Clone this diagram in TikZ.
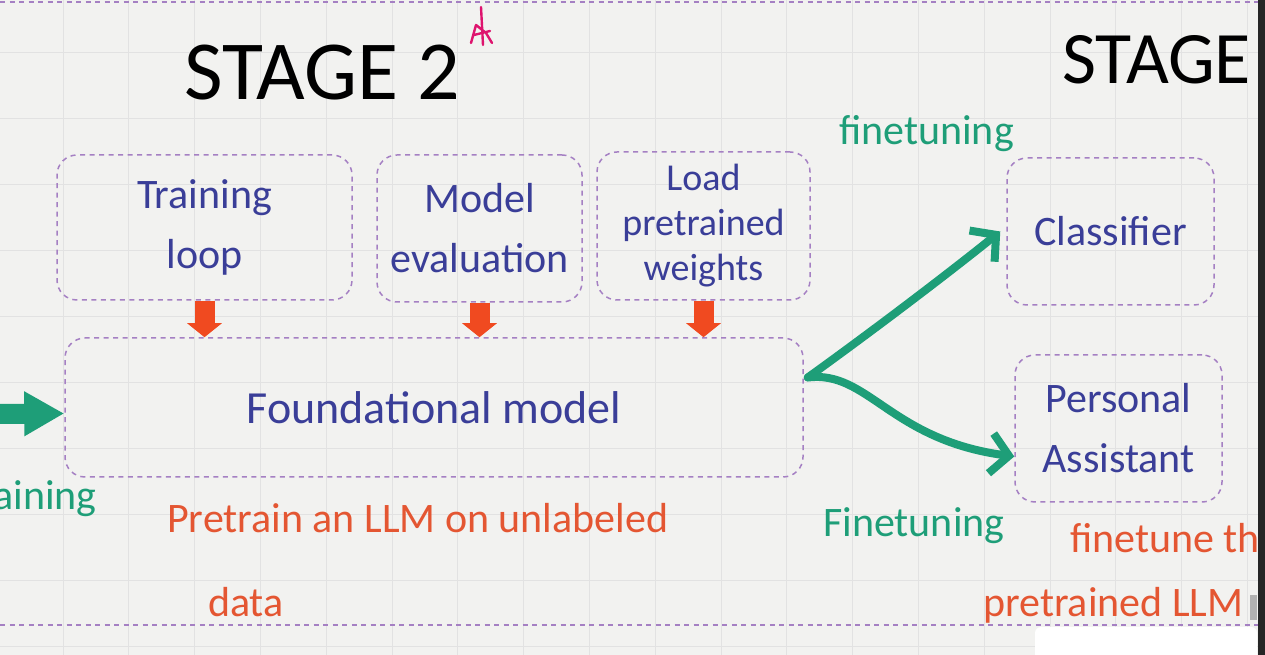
\documentclass[tikz,border=0pt]{standalone}
\usepackage{fontspec}
\setmainfont{Carlito}
\usetikzlibrary{arrows.meta,positioning}

\definecolor{paper}{RGB}{242,242,240}
\definecolor{gridgray}{RGB}{226,226,226}
\definecolor{boxpurple}{RGB}{165,128,195}
\definecolor{inkblue}{RGB}{58,62,152}
\definecolor{inkorange}{RGB}{228,86,50}
\definecolor{inkgreen}{RGB}{30,158,120}
\definecolor{pushred}{RGB}{240,74,32}
\definecolor{penpink}{RGB}{222,20,110}

\tikzset{
  dashbox/.style={draw=boxpurple, line width=1.5pt, dash pattern=on 5pt off 4.5pt,
    rounded corners=20pt, inner sep=0pt, text=inkblue, align=center,
    font=\fontsize{42}{60}\selectfont},
  pushdown/.style={draw=pushred, line width=20pt, -{Triangle[width=34pt,length=14pt]}},
  tuneline/.style={draw=inkgreen, line width=8pt, line cap=round,
    -{Straight Barb[length=18pt,width=40pt]}},
  stagetitle/.style={font=\fontsize{84}{88}\selectfont, text=black, inner sep=0pt},
  greennote/.style={font=\fontsize{42}{48}\selectfont, text=inkgreen, inner sep=0pt},
  orangenote/.style={font=\fontsize{42}{48}\selectfont, text=inkorange, inner sep=0pt}
}

\begin{document}
\begin{tikzpicture}[x=1pt,y=1pt]
\useasboundingbox (0,0) rectangle (1265,655);
\clip (0,0) rectangle (1265,655);
% paper and grid
\fill[paper] (0,0) rectangle (1265,655);
\foreach \gx in {0,...,18} \draw[gridgray, line width=0.8pt] (63+65.8*\gx,0) -- (63+65.8*\gx,655);
\foreach \gy in {0,...,9} \draw[gridgray, line width=0.8pt] (0,603-66*\gy) -- (1265,603-66*\gy);
% page separators
\draw[boxpurple, line width=1.5pt, dash pattern=on 5pt off 4.5pt] (0,653) -- (1265,653);
\draw[boxpurple, line width=1.5pt, dash pattern=on 5pt off 4.5pt] (0,30) -- (1265,30);

% titles
\node[stagetitle] (stagetwo) at (322,582) {STAGE 2};
\node[stagetitle, anchor=west, font=\fontsize{74}{78}\selectfont] (stagethree) at (1062,595) {STAGE 3};
% pink star doodle
\draw[penpink, line width=2.4pt, line cap=round, line join=round]
  (481,648) -- (483,610) (471,612) -- (476,630) -- (486,622) -- (492,612) (474,620) -- (490,624);

% stage 2 input boxes
\node[dashbox, minimum width=295pt, minimum height=145pt] (train) at (204.5,427.5) {Training\\loop};
\node[dashbox, minimum width=205pt, minimum height=147pt] (evaluate) at (479.5,426.5) {Model\\evaluation};
\node[dashbox, minimum width=213pt, minimum height=148pt,
  font=\fontsize{38}{45}\selectfont] (load) at (703.5,429) {Load\\pretrained\\weights};
% foundational model
\node[dashbox, minimum width=738pt, minimum height=139pt,
  font=\fontsize{46}{50}\selectfont] (foundation) at (434,247.5) {Foundational model};
% push arrows
\draw[pushdown] (train.south) -- (train.south |- foundation.north);
\draw[pushdown] (evaluate.south) -- (evaluate.south |- foundation.north);
\draw[pushdown] (load.south) -- (load.south |- foundation.north);

% incoming arrow from stage 1
\coordinate (entry) at (-10,241);
\draw[inkgreen, line width=20pt, -{Triangle[width=42pt,length=40pt]}] (entry) -- ([yshift=-6pt]foundation.west);
\node[greennote, anchor=base east] (pretrainword) at (97,145) {Training};
\node[orangenote, anchor=base west] (pretrainnote) at (167,122) {Pretrain an LLM on unlabeled};
\node[orangenote, anchor=base west] (pretrainnote2) at (208,38) {data};

% stage 3 boxes
\node[dashbox, minimum width=207pt, minimum height=147pt] (classifier) at (1110.5,423.5) {Classifier};
\node[dashbox, minimum width=207pt, minimum height=147pt] (assistant) at (1118.5,226.5) {Personal\\Assistant};

% finetuning arrows
\coordinate (fork) at ([xshift=4pt,yshift=30pt]foundation.east);
\draw[tuneline] (fork) .. controls (860,315) and (940,375) .. ([xshift=-6pt]classifier.west);
\draw[tuneline] (fork) .. controls (868,285) and (890,215) .. ([yshift=-28pt]assistant.west);
\node[greennote, anchor=base west] (tuneup) at (839,510) {finetuning};
\node[greennote, anchor=base west] (tunedown) at (823,118) {Finetuning};
\node[orangenote, anchor=base west] (tunenote) at (1070,102) {finetune the};
\node[orangenote, anchor=base west] (tunenote2) at (983,38) {pretrained LLM};

% screen edge, scroll bar and toolbar
\fill[gray!60] (1250,35) rectangle (1257,60);
\fill[white] (1035,0) [rounded corners=6pt] -- (1035,28) -- (1257,28) [sharp corners] -- (1257,0) -- cycle;
\fill[black!85] (1258,0) rectangle (1265,655);
\end{tikzpicture}
\end{document}
